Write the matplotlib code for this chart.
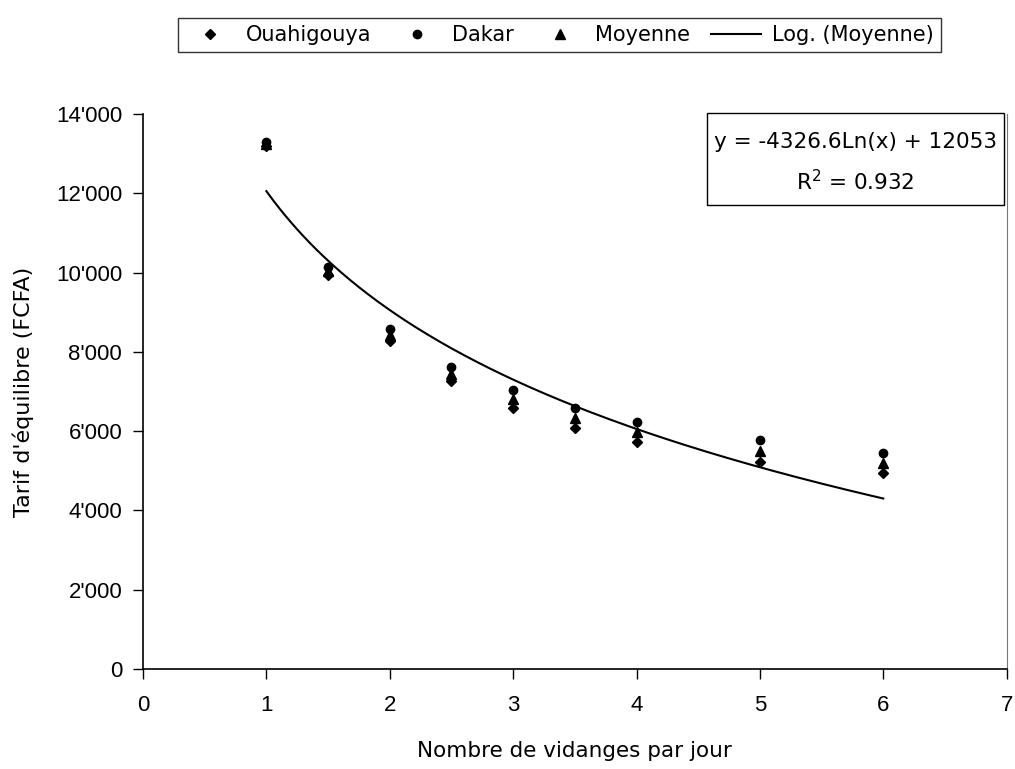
import numpy as np
import matplotlib
matplotlib.use("Agg")
import matplotlib.pyplot as plt
from matplotlib.patches import Rectangle
from matplotlib.ticker import FuncFormatter

plt.rcParams["font.family"] = ["Liberation Sans", "DejaVu Sans"]

# Values
vidanges = [1, 1.5, 2, 2.5, 3, 3.5, 4, 5, 6]
ouahigouya = [13200, 9930, 8280, 7270, 6580, 6070, 5730, 5230, 4940]
dakar = [13300, 10150, 8580, 7620, 7030, 6580, 6220, 5780, 5460]
moyenne = [13250, 10040, 8430, 7450, 6800, 6320, 5970, 5500, 5200]

# Logarithmic trendline shown on the chart
coef_a = -4326.6
coef_b = 12053
r2 = 0.932

fig = plt.figure(figsize=(10.15, 7.69), dpi=100)
ax = fig.add_axes([0.1409, 0.130, 0.8509, 0.7218])

ax.plot(vidanges, ouahigouya, "D", color="black", markersize=5, label="Ouahigouya")
ax.plot(vidanges, dakar, "o", color="black", markersize=6, label="Dakar")
ax.plot(vidanges, moyenne, "^", color="black", markersize=6.5, label="Moyenne")

x_fit = np.linspace(min(vidanges), max(vidanges), 200)
ax.plot(x_fit, coef_a * np.log(x_fit) + coef_b, "-", color="black", linewidth=1.5,
        label="Log. (Moyenne)")

ax.set_xlim(0, 7)
ax.set_ylim(0, 14000)
ax.set_xticks(range(0, 8))
ax.set_yticks(range(0, 14001, 2000))
ax.yaxis.set_major_formatter(FuncFormatter(lambda v, p: f"{int(v):,}".replace(",", "'")))
ax.tick_params(axis="both", direction="out", length=7, width=1, labelsize=16)
ax.tick_params(axis="x", pad=12)
ax.tick_params(axis="y", pad=8)

ax.spines["top"].set_visible(False)
ax.spines["right"].set_color("#777777")
ax.spines["left"].set_linewidth(1.2)
ax.spines["bottom"].set_linewidth(1.2)

ax.set_xlabel("Nombre de vidanges par jour", fontsize=15.5, labelpad=18,
              family=["DejaVu Sans"])
ax.set_ylabel("Tarif d'équilibre (FCFA)", fontsize=16, labelpad=16,
              family=["DejaVu Sans"])

# equation box
box = Rectangle((0.653, 0.836), 0.344, 0.166, transform=ax.transAxes,
                facecolor="white", edgecolor="black", linewidth=1, clip_on=False,
                zorder=5)
ax.add_patch(box)
ax.text(0.825, 0.950, f"y = {coef_a}Ln(x) + {coef_b}", transform=ax.transAxes,
        ha="center", va="center", fontsize=15.5, family=["DejaVu Sans"], zorder=6)
ax.text(0.825, 0.878, f"R$^2$ = {r2}", transform=ax.transAxes,
        ha="center", va="center", fontsize=15.5, family=["DejaVu Sans"], zorder=6)

leg = fig.legend(loc="upper center", bbox_to_anchor=(0.551, 0.977), ncol=4,
                 frameon=True, fancybox=False, edgecolor="black",
                 handlelength=2.4, handletextpad=0.5, columnspacing=1.0,
                 borderpad=0.35, borderaxespad=0,
                 prop={"family": ["DejaVu Sans"], "size": 15})
leg.get_frame().set_linewidth(1)

fig.savefig("out.png", dpi=100)
